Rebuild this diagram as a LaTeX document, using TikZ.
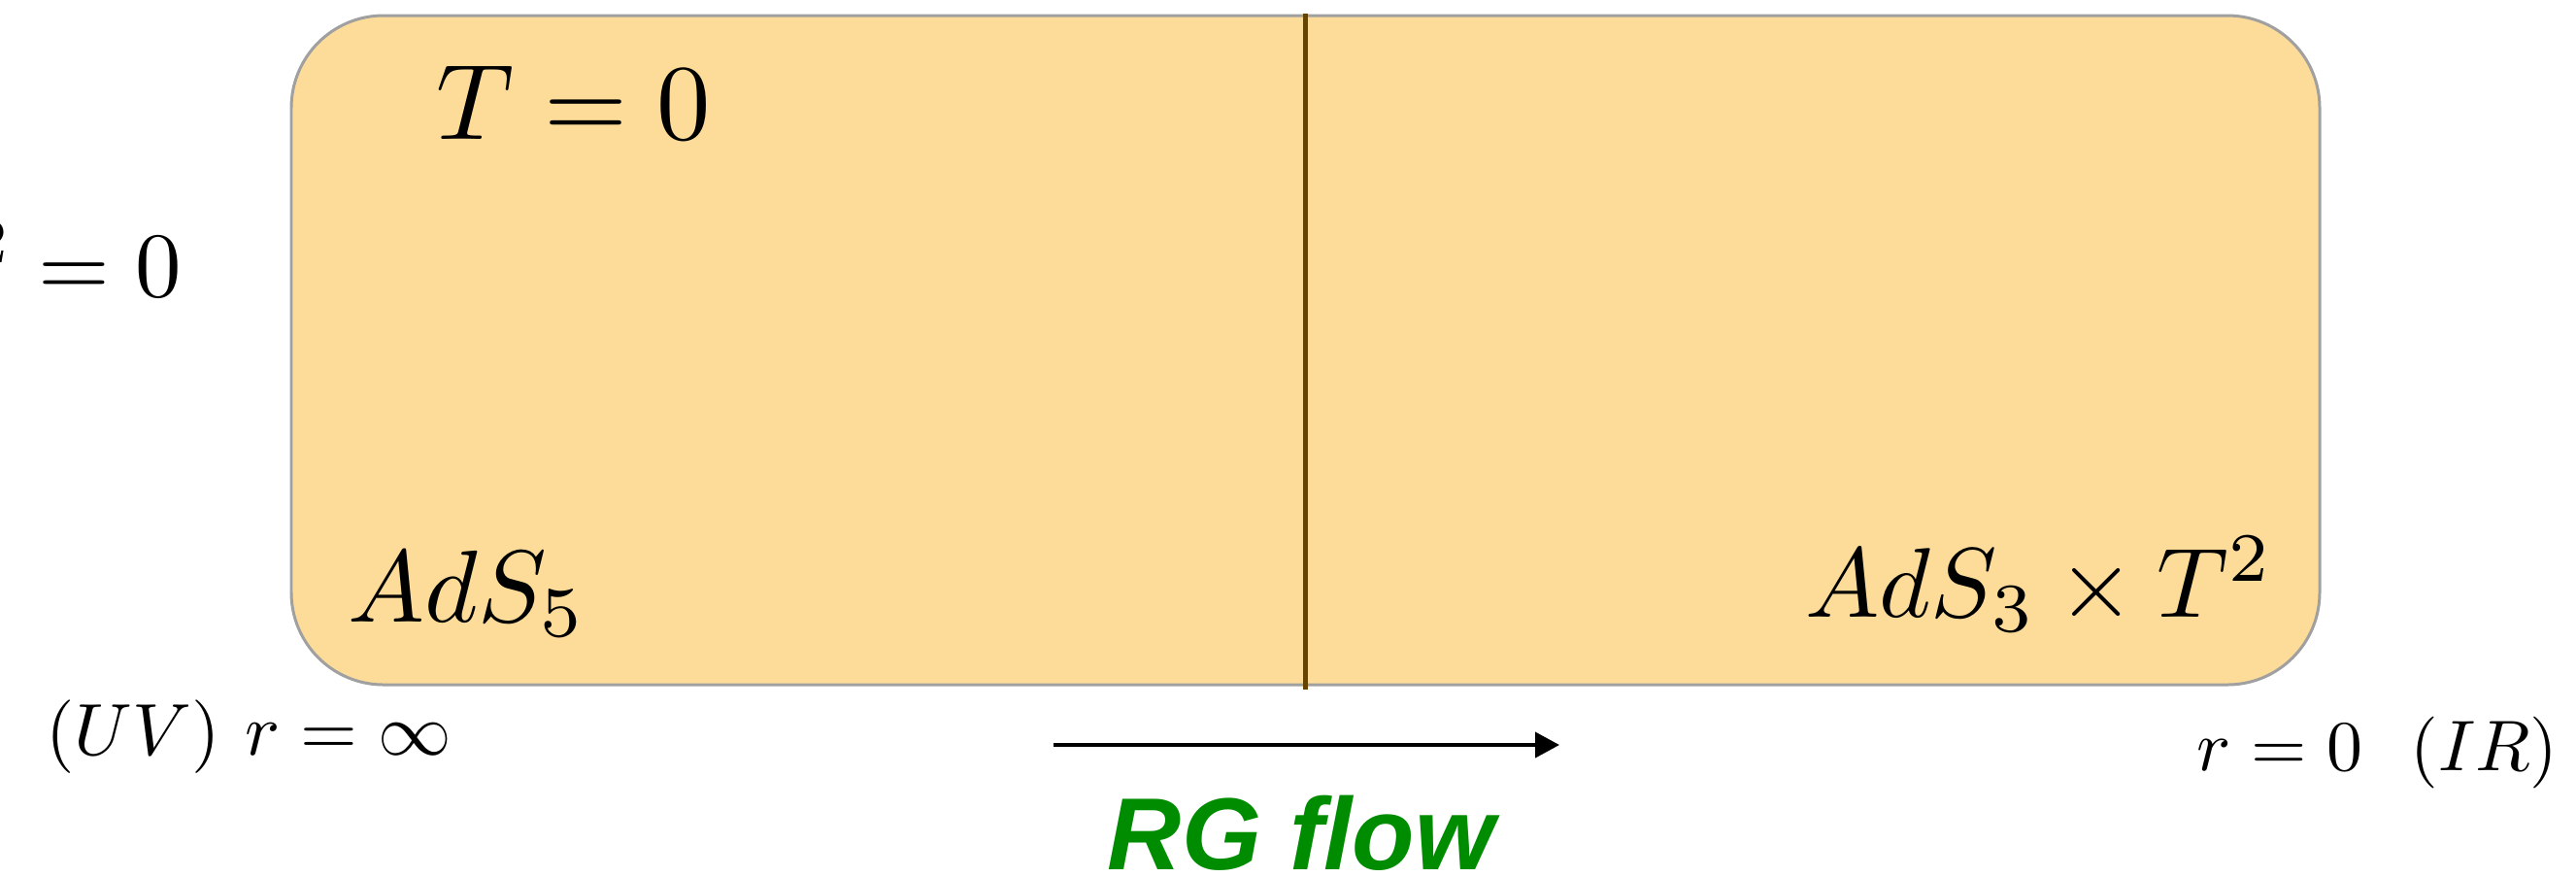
\documentclass[tikz,border=0pt]{standalone}
\usepackage{fontspec}
\newfontfamily\flowfont{Liberation Sans}
\usetikzlibrary{arrows.meta}

\definecolor{bulkfill}{RGB}{253,220,154}
\definecolor{bulkedge}{RGB}{160,160,160}
\definecolor{wallbrown}{RGB}{102,68,0}
\definecolor{flowgreen}{RGB}{0,140,0}

\begin{document}
\begin{tikzpicture}[
	biglabel/.style={inner sep=0pt,scale=#1},
	endlabel/.style={inner sep=0pt,scale=#1}
	]
	
	\useasboundingbox (0,0) rectangle (26.53,-9.02);
	
	% the bulk
	\node[draw=bulkedge,fill=bulkfill,line width=0.85pt,rounded corners=0.95cm,
		minimum width=20.89cm,minimum height=6.89cm,inner sep=0pt] (bulk) at (13.445,-3.605) {};
	\draw[wallbrown,line width=1.5pt] ([yshift=0.01cm]bulk.north) -- ([yshift=-0.03cm]bulk.south);
	
	\node[biglabel=3.15,anchor=base west] (temp) at (4.47,-1.43) {$T=0$};
	\node[endlabel=2.7,anchor=base east] (cut) at (1.89,-3.05) {$^2=0$};
	\node[biglabel=3.0,anchor=base west] (uvgeom) at (3.56,-6.40) {$AdS_5$};
	\node[biglabel=2.9,anchor=base east] (irgeom) at (23.43,-6.35) {$AdS_3\times T^2$};
	
	% the two ends
	\node[endlabel=2.15,anchor=base west] (uv) at (0.46,-7.77) {$(UV)\ r=\infty$};
	\node[endlabel=2.1,anchor=base east] (ir) at (26.36,-7.93) {$r=0\ \ (IR)$};
	
	% flow arrow
	\coordinate (flowstart) at (10.85,-7.67);
	\coordinate (flowend) at (16.06,-7.67);
	\draw[-{Triangle[length=0.25cm,width=0.26cm]},line width=1.15pt] (flowstart) -- (flowend);
	\node[inner sep=0pt,anchor=base,text=flowgreen,font=\flowfont\bfseries\itshape\fontsize{30}{36}\selectfont] (flow) at (13.40,-8.95) {RG flow};
	
\end{tikzpicture}
\end{document}
